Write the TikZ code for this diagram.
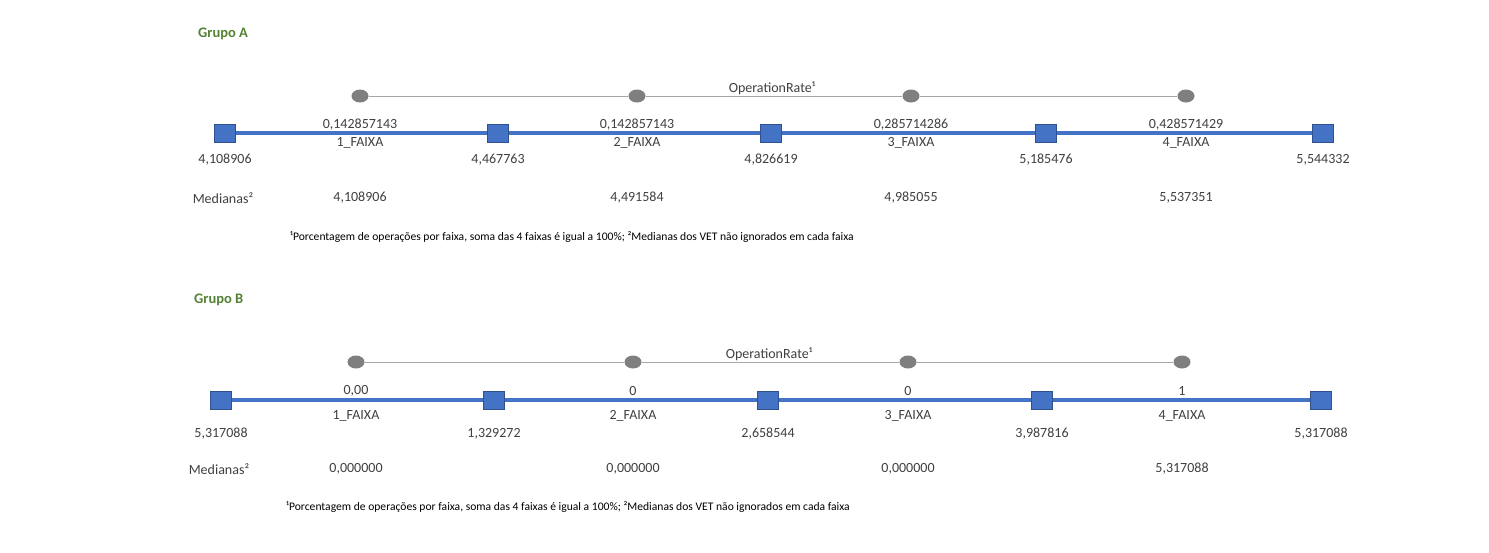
\documentclass[tikz,border=0pt]{standalone}
\usepackage{fontspec}
\setmainfont{Carlito}
\definecolor{bluebar}{HTML}{4472C4}
\definecolor{blueedge}{HTML}{2F528F}
\definecolor{dotgray}{HTML}{7F7F7F}
\definecolor{linegray}{HTML}{A6A6A6}
\definecolor{txt}{HTML}{404040}
\definecolor{grn}{HTML}{548235}
\tikzset{
  sq/.style={rectangle, draw=blueedge, line width=1pt, fill=bluebar, minimum width=21pt, minimum height=18pt, inner sep=0pt},
  dot/.style={ellipse, fill=dotgray, minimum width=17pt, minimum height=13pt, inner sep=0pt},
  lbl/.style={text=txt, font=\fontsize{14}{16}\selectfont, inner sep=0pt},
  title/.style={text=grn, font=\bfseries\fontsize{14.5}{17}\selectfont, inner sep=0pt, anchor=west},
  note/.style={text=black, font=\fontsize{11.6}{13}\selectfont, inner sep=0pt, anchor=west},
  bar/.style={bluebar, line width=4.5pt},
  thin/.style={linegray, line width=1pt}
}
\usetikzlibrary{shapes.geometric}
\begin{document}
\begin{tikzpicture}[x=1pt,y=-1pt]
\useasboundingbox[fill=white] (0,0) rectangle (1489,552);
% ---------------- Grupo A
\node[title] (tA) at (198,34) {Grupo A};
\node[dot] (ca1) at (360,96) {};
\node[dot] (ca2) at (637,96) {};
\node[dot] (ca3) at (911,96) {};
\node[dot] (ca4) at (1186,96) {};
\draw[thin] (ca1) -- (ca2) -- (ca3) -- (ca4);
\node[lbl] (orA) at (772,88) {OperationRate¹};
\node[sq] (sa0) at (225,133) {};
\node[sq] (sa1) at (498,133) {};
\node[sq] (sa2) at (771,133) {};
\node[sq] (sa3) at (1046,133) {};
\node[sq] (sa4) at (1323,133) {};
\draw[bar] (sa0) -- (sa1) -- (sa2) -- (sa3) -- (sa4);
\node[lbl] (ra1) at (360,125) {0,142857143};
\node[lbl] (ra2) at (637,125) {0,142857143};
\node[lbl] (ra3) at (911,125) {0,285714286};
\node[lbl] (ra4) at (1186,125) {0,428571429};
\node[lbl] (fa1) at (360,143) {1\_FAIXA};
\node[lbl] (fa2) at (637,143) {2\_FAIXA};
\node[lbl] (fa3) at (911,143) {3\_FAIXA};
\node[lbl] (fa4) at (1186,143) {4\_FAIXA};
\node[lbl] (la0) at (225,160) {4,108906};
\node[lbl] (la1) at (498,160) {4,467763};
\node[lbl] (la2) at (771,160) {4,826619};
\node[lbl] (la3) at (1046,160) {5,185476};
\node[lbl] (la4) at (1323,160) {5,544332};
\node[lbl] (mA) at (223,198) {Medianas²};
\node[lbl] (ma1) at (360,198) {4,108906};
\node[lbl] (ma2) at (637,198) {4,491584};
\node[lbl] (ma3) at (911,198) {4,985055};
\node[lbl] (ma4) at (1186,198) {5,537351};
\node[note] (nA) at (290,237) {¹Porcentagem de operações por faixa, soma das 4 faixas é igual a 100\%; ²Medianas dos VET não ignorados em cada faixa};
% ---------------- Grupo B
\node[title] (tB) at (194,300) {Grupo B};
\node[dot] (cb1) at (356,362) {};
\node[dot] (cb2) at (633,362) {};
\node[dot] (cb3) at (908,362) {};
\node[dot] (cb4) at (1182,362) {};
\draw[thin] (cb1) -- (cb2) -- (cb3) -- (cb4);
\node[lbl] (orB) at (769,354) {OperationRate¹};
\node[sq] (sb0) at (221,400) {};
\node[sq] (sb1) at (494,400) {};
\node[sq] (sb2) at (768,400) {};
\node[sq] (sb3) at (1042,400) {};
\node[sq] (sb4) at (1321,400) {};
\draw[bar] (sb0) -- (sb1) -- (sb2) -- (sb3) -- (sb4);
\node[lbl] (rb1) at (356,391) {0,00};
\node[lbl] (rb2) at (633,391) {0};
\node[lbl] (rb3) at (908,391) {0};
\node[lbl] (rb4) at (1182,391) {1};
\node[lbl] (fb1) at (356,416) {1\_FAIXA};
\node[lbl] (fb2) at (633,416) {2\_FAIXA};
\node[lbl] (fb3) at (908,416) {3\_FAIXA};
\node[lbl] (fb4) at (1182,416) {4\_FAIXA};
\node[lbl] (lb0) at (221,434) {5,317088};
\node[lbl] (lb1) at (494,434) {1,329272};
\node[lbl] (lb2) at (768,434) {2,658544};
\node[lbl] (lb3) at (1042,434) {3,987816};
\node[lbl] (lb4) at (1321,434) {5,317088};
\node[lbl] (mB) at (219,469) {Medianas²};
\node[lbl] (mb1) at (356,469) {0,000000};
\node[lbl] (mb2) at (633,469) {0,000000};
\node[lbl] (mb3) at (908,469) {0,000000};
\node[lbl] (mb4) at (1182,469) {5,317088};
\node[note] (nB) at (286,507) {¹Porcentagem de operações por faixa, soma das 4 faixas é igual a 100\%; ²Medianas dos VET não ignorados em cada faixa};
\end{tikzpicture}
\end{document}
